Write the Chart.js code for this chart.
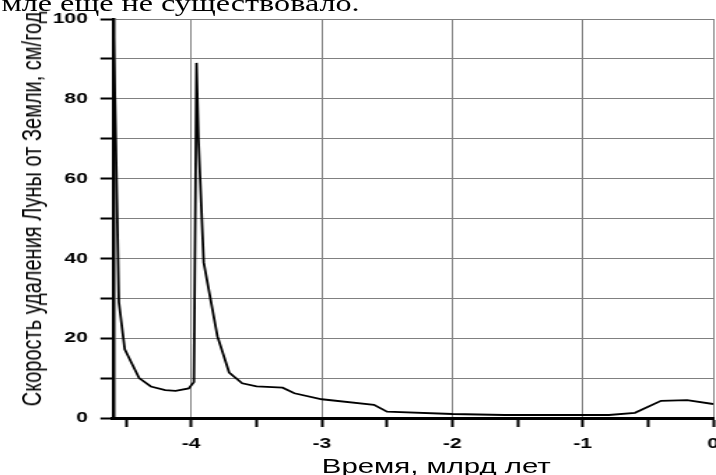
<!DOCTYPE html>
<html>
<head>
<meta charset="utf-8">
<script src="https://cdn.jsdelivr.net/npm/chart.js@4/dist/chart.umd.min.js"></script>
<style>
  html, body { margin: 0; padding: 0; background: #fff; overflow: hidden; }
  #wrap {
    position: absolute; left: 0; top: 0;
    width: 512px; height: 475px;
    transform: scaleX(1.3984); transform-origin: 0 0;
  }
  #wrap canvas { position: absolute; left: 0; top: 0; }
  .lbl { position: absolute; white-space: nowrap; line-height: 1; color: #000; }
  #note { left: 1px; top: -9px; font: 23px "Liberation Serif", serif; }
  #xTitle { left: 312px; top: 454px; transform: translateX(-50%); font: 21px "Liberation Sans", Arial, sans-serif; }
  #yTitle { left: 23px; top: 209px; transform: translate(-50%, -50%) rotate(-90deg); font: 20px "Liberation Sans", Arial, sans-serif; }
</style>
</head>
<body>
<div id="wrap">
  <canvas id="moonChart"></canvas>
  <div class="lbl" id="note">мле еще не существовало.</div>
  <div class="lbl" id="yTitle">Скорость удаления Луны от Земли, см/год</div>
  <div class="lbl" id="xTitle">Время, млрд лет</div>
</div>
<script>
// время, млрд лет назад
const timeGyr = [-4.6, -4.585, -4.57, -4.555, -4.51, -4.40, -4.31, -4.20, -4.12, -4.02, -3.98,
                 -3.96, -3.945, -3.905, -3.80, -3.71, -3.61, -3.50, -3.30, -3.21, -3.0,
                 -2.6, -2.5, -2.0, -1.6, -0.8, -0.6, -0.4, -0.2, 0];
// скорость удаления Луны, см/год
const recessionRate = [100, 80, 55, 29, 17.2, 10, 7.9, 7.0, 6.8, 7.4, 9.0,
                       89, 70, 39, 20.5, 11.4, 8.7, 7.9, 7.6, 6.2, 4.7,
                       3.3, 1.6, 1.0, 0.75, 0.75, 1.3, 4.3, 4.5, 3.5];

const xTicks = [-4.5, -4, -3.5, -3, -2.5, -2, -1.5, -1, -0.5, 0];
const xLabels = ['', '-4', '', '-3', '', '-2', '', '-1', '', '0'];
const yTicks = [0, 10, 20, 30, 40, 50, 60, 70, 80, 90, 100];
const yLabels = ['0', '', '20', '', '40', '', '60', '', '80', '', '100'];

const tickFont = { family: '"Liberation Sans", Arial, sans-serif', size: 15, weight: 'bold' };

const points = timeGyr.map((t, i) => ({ x: t, y: recessionRate[i] }));

const ctx = document.getElementById('moonChart').getContext('2d');
const moonChart = new Chart(ctx, {
    type: 'scatter',
    data: {
        datasets: [{
            data: points,
            showLine: true,
            borderColor: '#000',
            borderWidth: 1.8,
            pointRadius: 0,
            tension: 0
        }]
    },
    options: {
        responsive: true,
        maintainAspectRatio: false,
        animation: false,
        layout: { autoPadding: false, padding: { top: 19, right: 2, left: 0, bottom: 0 } },
        plugins: { legend: { display: false }, tooltip: { enabled: false } },
        scales: {
            x: {
                type: 'linear',
                min: -4.6,
                max: 0,
                afterBuildTicks: scale => { scale.ticks = xTicks.map(v => ({ value: v })); },
                afterFit: scale => {
                    scale.height = 57;
                    scale.paddingLeft = 0;
                    scale.paddingRight = 0;
                },
                grid: {
                    color: c => (c.tick && Number.isInteger(c.tick.value)) ? '#808080' : 'rgba(0,0,0,0)',
                    lineWidth: 1,
                    tickColor: '#000',
                    tickLength: 9,
                    tickWidth: 2
                },
                border: { color: '#000', width: 3 },
                ticks: {
                    color: '#000',
                    font: tickFont,
                    padding: 8,
                    maxRotation: 0,
                    autoSkip: false,
                    callback: (v, i) => xLabels[i]
                }
            },
            y: {
                min: 0,
                max: 100,
                afterBuildTicks: scale => { scale.ticks = yTicks.map(v => ({ value: v })); },
                afterFit: scale => {
                    scale.width = 80.8;
                    scale.paddingTop = 0;
                    scale.paddingBottom = 0;
                },
                grid: {
                    color: '#808080',
                    lineWidth: 1,
                    tickColor: '#000',
                    tickLength: 9,
                    tickWidth: 2
                },
                border: { color: '#000', width: 2.5 },
                ticks: {
                    color: '#000',
                    font: tickFont,
                    padding: 9,
                    autoSkip: false,
                    callback: (v, i) => yLabels[i]
                }
            }
        }
    }
});
</script>
</body>
</html>
